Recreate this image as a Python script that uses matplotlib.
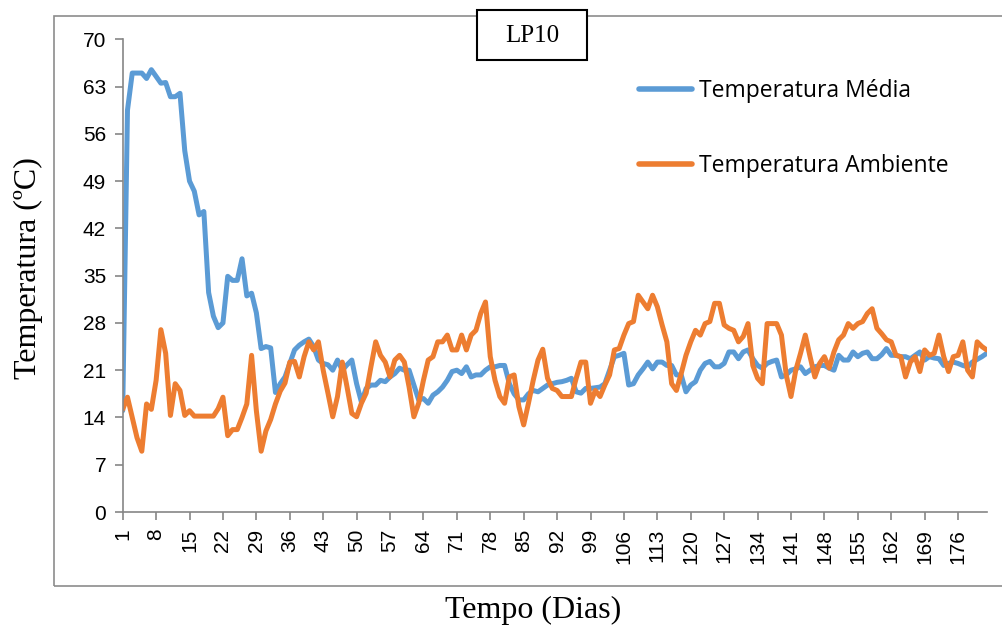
import numpy as np
import matplotlib
matplotlib.use("Agg")
import matplotlib.pyplot as plt
from matplotlib.patches import Rectangle

# dados (um valor por dia)
temp_media = [
    15, 59.5, 65, 65, 65, 64.2, 65.5, 64.5, 63.5, 63.6,
    61.5, 61.5, 62, 53.5, 49, 47.5, 44, 44.5, 32.5, 29,
    27.3, 28, 34.9, 34.3, 34.3, 37.5, 32, 32.4, 29.5, 24.2,
    24.5, 24.3, 17.7, 19, 20, 22, 24, 24.7, 25.2, 25.6,
    24.5, 22.5, 22, 21.8, 21, 22.5, 21, 21.8, 22.5, 19,
    16.3, 18.3, 18.8, 18.8, 19.5, 19.3, 20, 20.5, 21.3, 21,
    21, 18.8, 16.6, 16.8, 16.1, 17.3, 17.8, 18.5, 19.5, 20.8,
    21, 20.5, 21.5, 20, 20.3, 20.3, 21, 21.5, 21.5, 21.7,
    21.7, 19, 17.5, 16.6, 16.6, 17.5, 18, 17.8, 18.3, 18.8,
    19, 19.2, 19.3, 19.5, 19.8, 17.8, 17.6, 18.3, 18.3, 18.4,
    18.5, 19, 21, 23, 23.2, 23.5, 18.8, 19, 20.3, 21.2,
    22.2, 21.2, 22.2, 22.2, 21.7, 21.7, 20.3, 20.3, 17.8, 18.8,
    19.3, 21, 22, 22.3, 21.5, 21.5, 22, 23.7, 23.7, 22.7,
    23.7, 24, 22.7, 21.7, 21.3, 22, 22.3, 22.5, 20, 20.3,
    21, 21.2, 21.5, 20.5, 21, 21.5, 21.7, 21.7, 21.3, 21,
    23.2, 22.5, 22.5, 23.7, 23, 23.5, 23.7, 22.7, 22.7, 23.3,
    24.2, 23.2, 23.2, 23, 23, 22.7, 23.2, 23.7, 22.5, 23,
    22.8, 22.7, 21.7, 22, 22.2, 22, 21.7, 21.5, 22.2, 22.6,
    23, 23.5,
]

temp_ambiente = [
    15.2, 17, 14, 11, 9, 16, 15.2, 19.5, 27, 23.5,
    14.3, 19, 18, 14.3, 15, 14.2, 14.2, 14.2, 14.2, 14.2,
    15.3, 17, 11.3, 12.2, 12.2, 14, 16, 23.2, 15, 9,
    12, 13.7, 16, 17.9, 19.1, 22.2, 22.3, 20, 23, 25.2,
    24, 25.2, 21, 17.6, 14.1, 17.1, 22.2, 18.5, 14.6, 14.1,
    16.1, 17.6, 21.5, 25.2, 23.2, 22.2, 20, 22.5, 23.2, 22.2,
    18.5, 14.1, 16.1, 19.5, 22.5, 23, 25.2, 25.2, 26.2, 24,
    24, 26.2, 24, 26.2, 26.9, 29.4, 31.1, 23, 19.5, 17.1,
    16.1, 20, 20.3, 15.6, 12.9, 16.1, 19.5, 22.5, 24.1, 19.8,
    18.3, 18, 17.1, 17.1, 17.1, 19.8, 22.2, 22.2, 16.1, 18,
    17.1, 18.8, 20.3, 24, 24.2, 26.2, 27.9, 28.2, 32.1, 31.1,
    30.1, 32.1, 30.4, 27.7, 25.2, 19, 18, 20.5, 23.2, 25.2,
    26.9, 26.2, 27.9, 28.2, 30.9, 30.9, 27.7, 27.2, 26.9, 25.2,
    26, 27.9, 21.7, 19.8, 19, 27.9, 27.9, 27.9, 26.2, 20.3,
    17.1, 21, 23.5, 26.2, 23, 20, 22, 23, 21.3, 23.7,
    25.5, 26.2, 27.9, 27.2, 27.9, 28.2, 29.4, 30.1, 27.2, 26.4,
    25.5, 25.2, 23.2, 23, 20, 22.2, 23, 20.8, 24, 23.2,
    23.5, 26.2, 23, 20.8, 23, 23.2, 25.2, 21, 20, 25.2,
    24.5, 24,
]

y_ticks = list(range(0, 71, 7))
dias_media = np.arange(1, len(temp_media) + 1)
dias_amb = np.arange(1, len(temp_ambiente) + 1)
n_dias = max(len(temp_media), len(temp_ambiente))
x_ticks = list(range(1, n_dias + 1, 7))

fig = plt.figure(figsize=(10.03, 6.30), dpi=100)
W, H = 1003, 630

# moldura do gráfico
fig.patches.append(Rectangle((54 / W, 1 - 586 / H), 1.2, (586 - 16) / H,
                             transform=fig.transFigure, fill=False,
                             edgecolor="#8c8c8c", lw=1.2))

ax = fig.add_axes([122.7 / W, 1 - 512 / H, (986.7 - 122.7) / W, (512 - 39.3) / H])

ax.plot(dias_media, temp_media, color="#5B9BD5", lw=3.6,
        solid_joinstyle="round", solid_capstyle="round", label="Temperatura Média")
ax.plot(dias_amb, temp_ambiente, color="#ED7D31", lw=3.6,
        solid_joinstyle="round", solid_capstyle="round", label="Temperatura Ambiente")

ax.set_xlim(1, n_dias)
ax.set_ylim(0, 70)
ax.set_yticks(y_ticks)
ax.set_xticks(x_ticks)
ax.set_xticklabels([str(t) for t in x_ticks], rotation=90)

for s in ["top", "right"]:
    ax.spines[s].set_visible(False)
for s in ["left", "bottom"]:
    ax.spines[s].set_color("#868686")
    ax.spines[s].set_linewidth(1.2)
ax.tick_params(axis="both", direction="out", length=6, width=1.2, color="#868686",
               labelsize=15, labelcolor="black", pad=6)
for lab in ax.get_xticklabels() + ax.get_yticklabels():
    lab.set_fontfamily("Liberation Sans")

leg = ax.legend(loc="upper left", bbox_to_anchor=(628 / W, 1 - 68 / H),
                bbox_transform=fig.transFigure, frameon=False,
                handlelength=2.3, handletextpad=0.3, labelspacing=2.2,
                borderpad=0, prop={"family": "Open Sans", "size": 16.5})
for line in leg.get_lines():
    line.set_linewidth(4)

# caixa LP10
fig.patches.append(Rectangle((477 / W, 1 - 60 / H), 110 / W, 50 / H,
                             transform=fig.transFigure, fill=True, facecolor="white",
                             edgecolor="black", lw=1.5, zorder=5))
fig.text(532 / W, 1 - 36 / H, "LP10", ha="center", va="center",
         family="Liberation Serif", fontsize=18, zorder=6)

fig.text(28 / W, 1 - 268 / H, "Temperatura (ºC)", rotation=90, ha="center", va="center",
         family="Liberation Serif", fontsize=23)
fig.text(533 / W, 1 - 610 / H, "Tempo (Dias)", ha="center", va="center",
         family="Liberation Serif", fontsize=23)

fig.savefig("out.png", dpi=100)
